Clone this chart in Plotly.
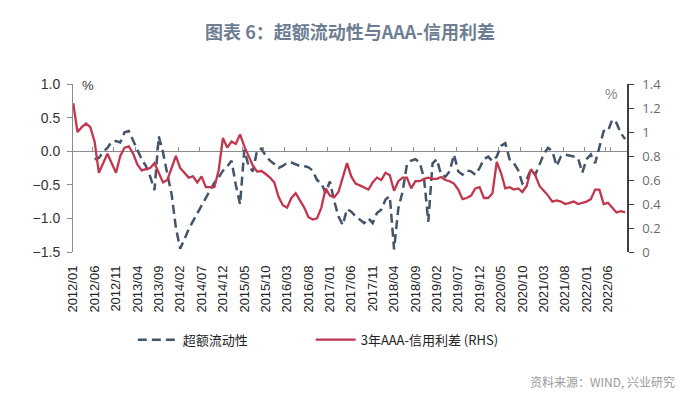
import plotly.graph_objects as go

# Monthly categories 2012/01 .. 2022/10
months = [f"{y}/{m:02d}" for y in range(2012, 2023) for m in range(1, 13)][:130]
tick_labels = months[::5]  # 2012/01, 2012/06, ... 2022/06

# 3年AAA-信用利差 (RHS), %
spread_rhs = [
    1.24, 1.00, 1.04, 1.07, 1.04, 0.92, 0.66, 0.74, 0.82, 0.74,
    0.66, 0.80, 0.87, 0.88, 0.82, 0.73, 0.68, 0.69, 0.70, 0.74,
    0.66, 0.58, 0.60, 0.70, 0.80, 0.70, 0.66, 0.62, 0.63, 0.58,
    0.63, 0.54, 0.54, 0.54, 0.68, 0.95, 0.87, 0.92, 0.90, 0.98,
    0.88, 0.80, 0.72, 0.67, 0.675, 0.65, 0.62, 0.58, 0.46, 0.39,
    0.37, 0.45, 0.49, 0.43, 0.37, 0.29, 0.27, 0.28, 0.37, 0.53,
    0.47, 0.455, 0.50, 0.62, 0.74, 0.63, 0.57, 0.555, 0.54, 0.52,
    0.58, 0.62, 0.60, 0.66, 0.64, 0.51, 0.59, 0.62, 0.62, 0.53,
    0.59, 0.59, 0.61, 0.62, 0.61, 0.61, 0.625, 0.60, 0.59, 0.57,
    0.52, 0.44, 0.45, 0.47, 0.53, 0.54, 0.45, 0.45, 0.49, 0.75,
    0.66, 0.53, 0.54, 0.52, 0.53, 0.50, 0.55, 0.69, 0.64, 0.55,
    0.51, 0.47, 0.42, 0.43, 0.42, 0.40, 0.41, 0.42, 0.40, 0.41,
    0.42, 0.44, 0.52, 0.52, 0.40, 0.41, 0.37, 0.33, 0.34, 0.33,
]

# 超额流动性 (LHS), %
excess_liquidity = [
    None, None, None, None, None, -0.12, -0.10, -0.01, 0.05, 0.14,
    0.15, 0.13, 0.28, 0.30, 0.15, 0.02, -0.12, -0.22, -0.38, -0.58,
    0.22, -0.02, -0.34, -0.64, -1.14, -1.45, -1.31, -1.16, -1.04, -0.92,
    -0.82, -0.69, -0.58, -0.47, -0.39, -0.29, -0.23, -0.14, -0.50, -0.79,
    0.02, -0.22, -0.30, 0.02, 0.04, -0.07, -0.14, -0.19, -0.25, -0.22,
    -0.17, -0.17, -0.19, -0.22, -0.22, -0.24, -0.29, -0.43, -0.48, -0.62,
    -0.45, -0.74, -0.97, -1.10, -0.86, -0.90, -0.97, -1.02, -1.07, -1.00,
    -1.07, -0.92, -0.87, -0.72, -0.67, -1.46, -0.85, -0.60, -0.20, -0.14,
    -0.12, -0.17, -0.40, -1.05, -0.18, -0.12, -0.35, -0.38, -0.30, -0.05,
    -0.30, -0.35, -0.29, -0.30, -0.35, -0.25, -0.12, -0.08, -0.15, -0.08,
    0.08, 0.12, -0.12, -0.18, -0.28, -0.48, -0.42, -0.27, -0.35, -0.20,
    -0.04, 0.05, 0.00, -0.22, -0.08, -0.05, -0.06, -0.08, -0.10, -0.32,
    -0.12, -0.05, -0.18, 0.08, 0.30, 0.30, 0.47, 0.42, 0.27, 0.18,
]

left_ticks = [-1.5, -1.0, -0.5, 0.0, 0.5, 1.0]
left_ticktext = ["\u22121.5", "\u22121.0", "\u22120.5", "0.0", "0.5", "1.0"]
right_ticks = [0, 0.2, 0.4, 0.6, 0.8, 1.0, 1.2, 1.4]
right_ticktext = ["0", "0.2", "0.4", "0.6", "0.8", "1", "1.2", "1.4"]

RED = "#c2364f"
BLUE = "#44546a"
CJK = "Noto Sans CJK SC"

fig = go.Figure()
fig.add_trace(go.Scatter(
    x=months, y=excess_liquidity, name="超额流动性", mode="lines",
    line=dict(color=BLUE, width=2.5, dash="9px,5px"), connectgaps=False,
    legend="legend",
))
fig.add_trace(go.Scatter(
    x=months, y=spread_rhs, name="3年AAA-信用利差 (RHS)", mode="lines",
    yaxis="y2", line=dict(color=RED, width=2.3), legend="legend2",
))
# invisible trace to carry the tick-mark axis on the zero line
fig.add_trace(go.Scatter(
    x=months, y=spread_rhs, xaxis="x2", yaxis="y2", mode="lines",
    line=dict(width=0, color="rgba(0,0,0,0)"), showlegend=False, hoverinfo="skip",
))

legend_common = dict(
    orientation="h", xanchor="left", y=-0.522, yanchor="middle",
    font=dict(family=CJK, size=13, color="#222222"),
    itemwidth=40, bgcolor="rgba(0,0,0,0)",
)

fig.update_layout(
    width=700, height=418,
    margin=dict(l=73, r=73, t=84, b=166, pad=0),
    paper_bgcolor="white", plot_bgcolor="white",
    showlegend=True,
    title=dict(
        text="<b>图表 6：超额流动性与AAA-信用利差</b>",
        x=0.5, xref="container", xanchor="center",
        y=1 - 33 / 418, yref="container", yanchor="middle",
        font=dict(family=CJK, size=18, color="#6e7e92"),
    ),
    xaxis=dict(
        type="category", range=[-0.05, 129.45],
        tickmode="array", tickvals=tick_labels, ticktext=tick_labels,
        tickangle=-90, showline=False, showgrid=False, zeroline=False,
        ticks="", ticklabelstandoff=10,
        tickfont=dict(family="Liberation Sans", size=13, color="#222222"),
    ),
    xaxis2=dict(
        type="category", overlaying="x", range=[-0.05, 129.45],
        anchor="free", position=0.6, side="top",
        tickmode="array", tickvals=tick_labels, tickson="boundaries",
        ticks="outside", ticklen=4, tickcolor="#8c8c8c", tickwidth=1,
        showticklabels=False, showline=False, showgrid=False, zeroline=False,
    ),
    yaxis=dict(
        range=[-1.5, 1.0], tickmode="array", tickvals=left_ticks, ticktext=left_ticktext,
        showline=True, linecolor="#8c8c8c", linewidth=1,
        ticks="outside", ticklen=5, tickcolor="#8c8c8c",
        zeroline=True, zerolinecolor="#8c8c8c", zerolinewidth=1,
        showgrid=False, ticklabelstandoff=4,
        tickfont=dict(family="Liberation Sans", size=14, color="#333333"),
    ),
    yaxis2=dict(
        range=[0, 1.4], overlaying="y", side="right", anchor="x",
        tickmode="array", tickvals=right_ticks, ticktext=right_ticktext,
        showline=True, linecolor="#404040", linewidth=1.5,
        ticks="outside", ticklen=5, tickcolor="#404040",
        showgrid=False, zeroline=False, ticklabelstandoff=6,
        tickfont=dict(family="Open Sans", size=13, color="#6a6a6a"),
    ),
    legend=dict(x=0.108, **legend_common),
    legend2=dict(x=0.429, **legend_common),
    annotations=[
        dict(text="%", xref="paper", yref="paper", x=0.012, y=0.994,
             xanchor="left", yanchor="middle", showarrow=False,
             font=dict(family="Liberation Sans", size=13, color="#333333")),
        dict(text="%", xref="paper", yref="paper", x=0.971, y=0.94,
             xanchor="center", yanchor="middle", showarrow=False,
             font=dict(family="Liberation Sans", size=14, color="#8a8a8a")),
        dict(text="资料来源：WIND, 兴业研究", xref="paper", yref="paper",
             x=1.09, y=-0.773, xanchor="right", yanchor="middle", showarrow=False,
             font=dict(family=CJK, size=12, color="#9a9a9a")),
    ],
)

fig.write_html("out.html", config={"displayModeBar": False},
               post_script="document.body.style.margin='0';")
